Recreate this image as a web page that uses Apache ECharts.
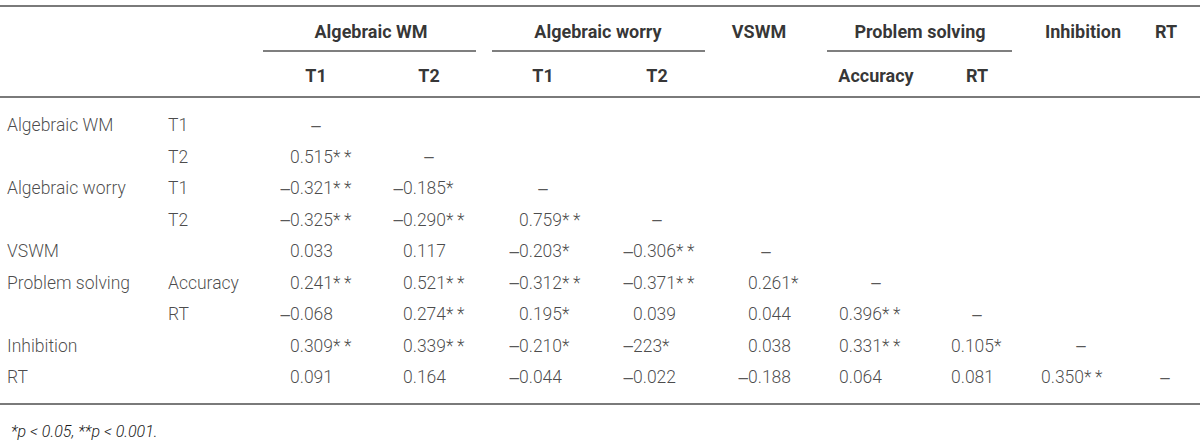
<!DOCTYPE html>
<html>
<head>
<meta charset="utf-8">
<script src="https://cdn.jsdelivr.net/npm/echarts@6/dist/echarts.min.js"></script>
<style>
html,body{margin:0;padding:0;background:#fff;}
#chart{width:1200px;height:441px;}
</style>
</head>
<body>
<div id="chart"></div>
<script>
// ---------- DATA ----------
const groupHeaders = ['Algebraic WM', 'Algebraic worry', 'VSWM', 'Problem solving', 'Inhibition', 'RT'];
const subHeaders = ['T1', 'T2', 'T1', 'T2', '', 'Accuracy', 'RT', '', ''];
const rowGroups = ['Algebraic WM', '', 'Algebraic worry', '', 'VSWM', 'Problem solving', '', 'Inhibition', 'RT'];
const rowSubs = ['T1', 'T2', 'T1', 'T2', '', 'Accuracy', 'RT', '', ''];
const row1 = ['–'];
const row2 = ['0.515**', '–'];
const row3 = ['−0.321**', '−0.185*', '–'];
const row4 = ['−0.325**', '−0.290**', '0.759**', '–'];
const row5 = ['0.033', '0.117', '−0.203*', '−0.306**', '–'];
const row6 = ['0.241**', '0.521**', '−0.312**', '−0.371**', '0.261*', '–'];
const row7 = ['−0.068', '0.274**', '0.195*', '0.039', '0.044', '0.396**', '–'];
const row8 = ['0.309**', '0.339**', '−0.210*', '−223*', '0.038', '0.331**', '0.105*', '–'];
const row9 = ['0.091', '0.164', '−0.044', '−0.022', '−0.188', '0.064', '0.081', '0.350**', '–'];
const footnote = '*p < 0.05, **p < 0.001.';

// ---------- LAYOUT (positions in x-axis units, 0..1200) ----------
const layout = {
  rowGroupX: 7,
  rowSubX: 168,
  colCenter: [316, 429, 543, 657, 766, 876, 977, 1081, 1165],
  colAnchor: [290, 403, 519, 633, 748, 839, 951, 1041, 1140],
  groupCenter: [371, 598, 759, 920, 1083, 1166],
  groupSpan: [[263, 476], [492, 705], null, [827, 1012], null, null]
};

const rows = [row1, row2, row3, row4, row5, row6, row7, row8, row9];
const bodyFont = "Roboto, 'Liberation Sans', Arial, sans-serif";
const dashFont = "'Liberation Sans', Arial, sans-serif";
const textColor = '#1a1a1a';
const bodyStyle = { fontFamily: bodyFont, fontSize: 17.5, fontWeight: 300, color: textColor };
const dashStyle = { fontFamily: dashFont, fontSize: 17, fontWeight: 'normal', color: '#2a2a2a' };
const headStyle = { fontFamily: bodyFont, fontSize: 18, fontWeight: 'bold', color: '#000' };

const rowIdx = rows.map((_, i) => 'r' + i);

const groupData = [], subData = [], dashData = [], numData = [], signData = [];
rowGroups.forEach((t, i) => { if (t) groupData.push({ value: [layout.rowGroupX, i], name: t }); });
rowSubs.forEach((t, i) => { if (t) subData.push({ value: [layout.rowSubX, i], name: t }); });
rows.forEach((r, i) => {
  r.forEach((cell, j) => {
    if (cell === '–') {
      dashData.push({ value: [layout.colCenter[j], i], name: '–' });
    } else {
      let s = cell;
      if (s.startsWith('−')) {
        signData.push({ value: [layout.colAnchor[j], i], name: '–' });
        s = s.slice(1);
      }
      numData.push({ value: [layout.colAnchor[j], i], name: s.replace('**', '*\u2009*') });
    }
  });
});

const hGroupData = groupHeaders.map((t, k) => ({ value: [layout.groupCenter[k], 0], name: t }));
const hSubData = [];
subHeaders.forEach((t, j) => { if (t) hSubData.push({ value: [layout.colCenter[j], 1], name: t }); });

function textSeries(name, data, xi, yi, align, style, offset) {
  return {
    type: 'scatter', name, data, xAxisIndex: xi, yAxisIndex: yi,
    symbolSize: 0, silent: true, animation: false,
    label: Object.assign({
      show: true, position: 'inside', align: align, verticalAlign: 'middle',
      formatter: '{b}', offset: offset || [0, 0]
    }, style)
  };
}

const chart = echarts.init(document.getElementById('chart'), null, { renderer: 'svg' });

const lines = [];
const ruleStyle = { stroke: '#7a7a7a', lineWidth: 1.8 };
[6, 97, 404].forEach(y => lines.push({ type: 'line', shape: { x1: 0, y1: y, x2: 1200, y2: y }, style: ruleStyle, silent: true }));
layout.groupSpan.forEach(sp => {
  if (sp) lines.push({ type: 'line', shape: { x1: sp[0], y1: 51, x2: sp[1], y2: 51 }, style: { stroke: '#555', lineWidth: 1.3 }, silent: true });
});

chart.setOption({
  animation: false,
  backgroundColor: '#fff',
  title: {
    text: footnote, left: 6, top: 418,
    textStyle: { fontFamily: bodyFont, fontSize: 16, fontWeight: 300, fontStyle: 'italic', color: textColor }
  },
  grid: [
    { left: 0, right: 0, top: 109.25, height: 283.5 },
    { left: 0, right: 0, top: 9, height: 88 }
  ],
  xAxis: [
    { type: 'value', min: 0, max: 1200, show: false, gridIndex: 0 },
    { type: 'value', min: 0, max: 1200, show: false, gridIndex: 1 }
  ],
  yAxis: [
    { type: 'category', data: rowIdx, inverse: true, show: false, gridIndex: 0 },
    { type: 'category', data: ['group', 'sub'], inverse: true, show: false, gridIndex: 1 }
  ],
  graphic: lines,
  series: [
    textSeries('rowGroup', groupData, 0, 0, 'left', bodyStyle),
    textSeries('rowSub', subData, 0, 0, 'left', bodyStyle),
    textSeries('dash', dashData, 0, 0, 'center', dashStyle),
    textSeries('num', numData, 0, 0, 'left', bodyStyle),
    textSeries('sign', signData, 0, 0, 'right', dashStyle, [0, 0]),
    textSeries('hGroup', hGroupData, 1, 1, 'center', headStyle),
    textSeries('hSub', hSubData, 1, 1, 'center', headStyle)
  ]
});
</script>
</body>
</html>
